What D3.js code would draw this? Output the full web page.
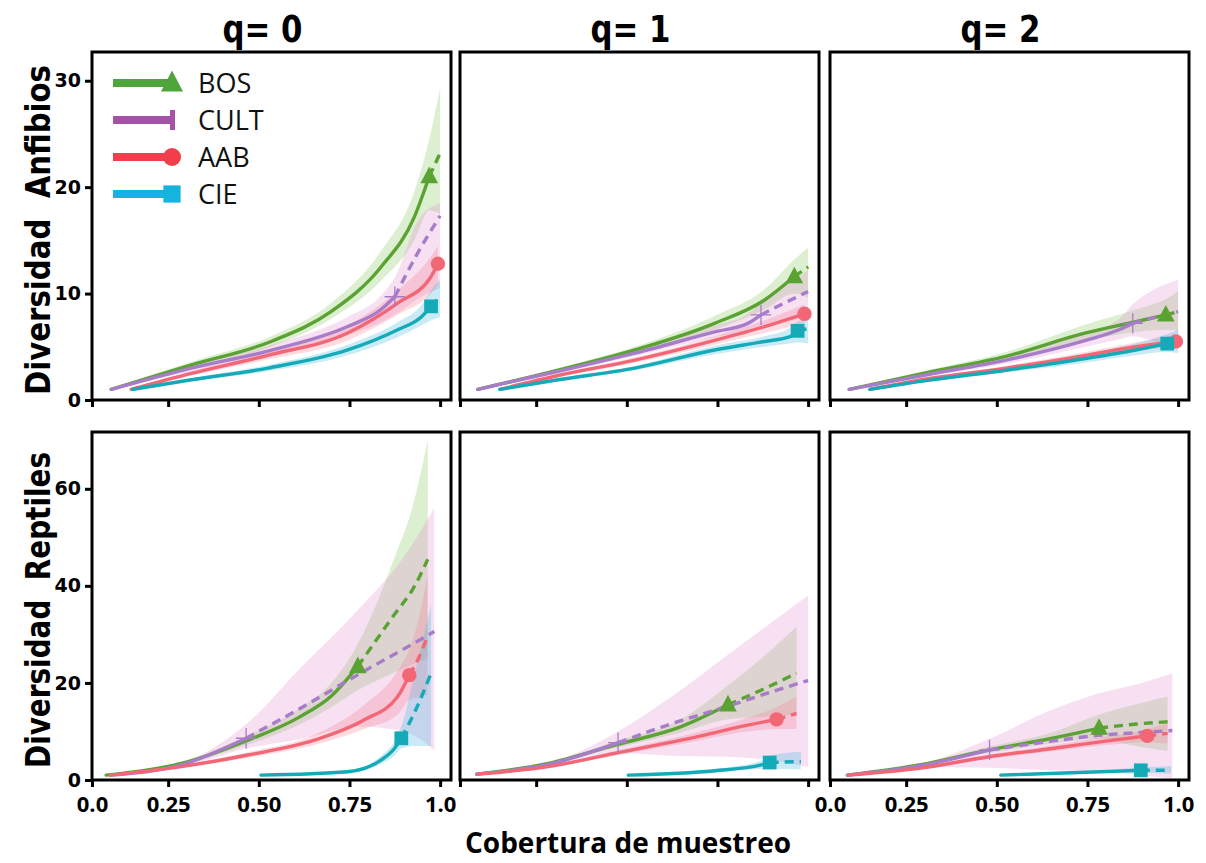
<!DOCTYPE html>
<html>
<head>
<meta charset="utf-8">
<script src="https://cdn.jsdelivr.net/npm/d3@7"></script>
<style>
body { margin: 0; background: #fff; }
svg text { white-space: pre; }
</style>
</head>
<body>
<svg id="chart" width="1206" height="863"></svg>
<script>
//
// iNEXT style coverage curves, 2 rows (taxa) x 3 columns (order q)
//

var seriesNames = ["BOS", "CULT", "AAB", "CIE"];
var lineColors = ["#5aa332", "#a77cc9", "#f26776", "#14aab8"];
var legendColors = ["#4fa53c", "#a453a8", "#f03e4b", "#15b4df"];
var bandColors = ["#86c55a", "#de8fd0", "#f77e8e", "#3fb8df"];
var markerShapes = ["triangle", "plus", "circle", "square"];

var qTitles = ["q= 0", "q= 1", "q= 2"];
var rowTitles = ["Diversidad  Anfibios", "Diversidad  Reptiles"];
var xTitle = "Cobertura de muestreo";

var xDomain = [0.04, 1.03];
var xTickValues = [0.04, 0.25, 0.5, 0.75, 1.0];
var xTickLabels = ["0.0", "0.25", "0.50", "0.75", "1.0"];
var yMaxAnf = 32.7;
var yMaxRep = 71.7;
var yTicksAnf = [0, 10, 20, 30];
var yTicksRep = [0, 20, 40, 60];

// points: [coverage, diversity, lower CI, upper CI], series order BOS, CULT, AAB, CIE
// *Obs = index of the observed sample (solid before, dashed after)
var anfQ0 = [
    [[0.093, 1, 0.9, 1.1], [0.314, 3.3, 3.0, 3.6], [0.534, 5.5, 5.0, 6.0], [0.699, 8.3, 7.6, 9.1], [0.837, 12.5, 11.2, 14.0], [0.929, 17.2, 15.0, 19.6], [0.970, 21.0, 17.8, 24.5], [1.0, 23.2, 17.5, 29.3]],
    [[0.093, 1, 0.9, 1.1], [0.314, 3.0, 2.7, 3.3], [0.525, 4.6, 4.1, 5.1], [0.745, 6.9, 6.1, 7.8], [0.837, 8.5, 7.3, 9.8], [0.875, 9.7, 8.0, 11.5], [0.938, 13.8, 9.5, 16.8], [1.0, 17.3, 10.5, 18.5]],
    [[0.148, 1, 0.9, 1.1], [0.314, 2.5, 2.3, 2.7], [0.525, 4.2, 3.8, 4.6], [0.745, 6.3, 5.6, 7.0], [0.883, 9.1, 8.0, 10.3], [0.975, 11.6, 10.0, 13.5], [0.994, 12.8, 10.8, 14.5]],
    [[0.153, 1, 0.9, 1.1], [0.314, 1.9, 1.75, 2.05], [0.525, 3.0, 2.7, 3.3], [0.745, 4.7, 4.2, 5.2], [0.883, 6.6, 5.9, 7.3], [0.948, 7.8, 7.0, 8.9], [0.975, 8.8, 7.5, 10.3], [1.0, 9.7, 7.8, 11.3]]
];
var anfQ0Obs = [6, 5, 6, 6];

var anfQ1 = [
    [[0.089, 1, 0.9, 1.1], [0.311, 2.8, 2.6, 3.0], [0.522, 4.7, 4.4, 5.0], [0.742, 7.2, 6.6, 7.9], [0.88, 9.4, 8.5, 10.4], [0.962, 11.6, 10.0, 13.2], [1.0, 12.5, 9.6, 14.3]],
    [[0.089, 1, 0.9, 1.1], [0.311, 2.7, 2.5, 2.9], [0.522, 4.4, 4.1, 4.7], [0.742, 6.4, 5.9, 7.0], [0.834, 7.2, 6.5, 8.1], [0.87, 8.0, 7.0, 9.2], [0.94, 9.2, 7.4, 10.8], [1.0, 10.2, 7.8, 12.2]],
    [[0.15, 1, 0.9, 1.1], [0.311, 2.3, 2.15, 2.45], [0.522, 3.75, 3.5, 4.0], [0.742, 5.6, 5.2, 6.0], [0.88, 6.9, 6.3, 7.5], [0.99, 8.1, 7.2, 9.0]],
    [[0.15, 1, 0.9, 1.1], [0.311, 1.9, 1.8, 2.0], [0.522, 3.0, 2.8, 3.2], [0.742, 4.7, 4.3, 5.1], [0.88, 5.5, 5.0, 6.0], [0.95, 5.95, 5.3, 6.8], [0.971, 6.5, 5.4, 7.4], [1.0, 6.7, 5.3, 7.6]]
];
var anfQ1Obs = [5, 5, 5, 6];

var anfQ2 = [
    [[0.093, 1, 0.9, 1.1], [0.31, 2.6, 2.4, 2.8], [0.525, 4.1, 3.8, 4.5], [0.745, 6.3, 5.6, 7.1], [0.883, 7.35, 6.4, 8.5], [0.966, 8.0, 6.6, 9.5], [1.0, 8.3, 6.5, 10.2]],
    [[0.093, 1, 0.9, 1.1], [0.31, 2.4, 2.2, 2.6], [0.525, 3.75, 3.4, 4.1], [0.745, 5.6, 5.0, 6.3], [0.837, 6.6, 5.7, 7.6], [0.875, 7.2, 6.0, 9.0], [0.94, 7.8, 5.5, 10.5], [1.0, 8.3, 5.0, 11.3]],
    [[0.15, 1, 0.9, 1.1], [0.31, 2.0, 1.9, 2.1], [0.525, 3.0, 2.8, 3.2], [0.745, 4.2, 3.9, 4.5], [0.883, 5.0, 4.6, 5.4], [0.994, 5.5, 5.0, 6.1]],
    [[0.15, 1, 0.9, 1.1], [0.31, 1.85, 1.75, 1.95], [0.525, 2.8, 2.6, 3.0], [0.745, 3.9, 3.5, 4.3], [0.883, 4.7, 4.2, 5.3], [0.97, 5.3, 4.5, 6.2], [1.0, 5.4, 4.4, 6.6]]
];
var anfQ2Obs = [5, 5, 5, 5];

var repQ0 = [
    [[0.079, 1, 0.9, 1.1], [0.286, 3.4, 3.1, 3.7], [0.47, 8.2, 7.3, 9.2], [0.608, 12.8, 11.3, 14.6], [0.70, 17.3, 15.0, 20.0], [0.773, 23.4, 18.5, 28.0], [0.87, 33.7, 22, 45], [0.93, 40, 24, 58], [0.966, 45.5, 25, 70]],
    [[0.093, 1, 0.9, 1.1], [0.286, 3.1, 2.7, 3.5], [0.465, 8.6, 6.5, 11.5], [0.62, 15, 8.5, 23.5], [0.773, 21.7, 11, 35], [0.9, 27, 10, 46], [0.984, 30.6, 6.2, 56]],
    [[0.09, 1, 0.9, 1.1], [0.286, 2.75, 2.5, 3.0], [0.47, 5.15, 4.6, 5.7], [0.653, 8.2, 7.2, 9.3], [0.791, 12.4, 10.5, 15.5], [0.883, 17.2, 13.5, 22.5], [0.915, 21.6, 16.5, 27], [0.94, 25, 17, 33], [0.965, 29.5, 17.5, 42]],
    [[0.506, 1, 0.8, 1.2], [0.745, 1.7, 1.4, 2.0], [0.837, 4.1, 3.3, 5.0], [0.874, 6.5, 5.0, 8.0], [0.893, 8.6, 6.5, 11], [0.93, 14, 7, 22], [0.975, 22, 7, 36]]
];
var repQ0Obs = [5, 2, 6, 4];

var repQ1 = [
    [[0.086, 1.2, 1.1, 1.3], [0.283, 3.4, 3.2, 3.6], [0.467, 7.2, 6.6, 7.9], [0.65, 11, 9.8, 12.5], [0.779, 15.5, 12.5, 19.5], [0.87, 18.5, 13, 25], [0.968, 22, 13.5, 31.6]],
    [[0.086, 1.2, 1.1, 1.3], [0.283, 3.2, 3.0, 3.4], [0.476, 7.7, 5.5, 10], [0.62, 11.5, 5.0, 17], [0.779, 15.2, 4.8, 25.8], [0.9, 18.2, 4.0, 32.5], [1.0, 20.5, 2.7, 38]],
    [[0.09, 1.2, 1.1, 1.3], [0.283, 2.75, 2.5, 3.0], [0.467, 5.5, 5.0, 6.0], [0.65, 8.2, 7.4, 9.0], [0.834, 11.3, 10.0, 12.8], [0.913, 12.5, 10.5, 15], [0.968, 13.7, 10.5, 17.2]],
    [[0.504, 1.0, 0.8, 1.2], [0.743, 1.9, 1.5, 2.3], [0.871, 3.1, 2.3, 4.0], [0.894, 3.6, 2.3, 5.0], [0.98, 3.8, 2.2, 5.8]]
];
var repQ1Obs = [4, 2, 5, 3];

var repQ2 = [
    [[0.088, 1, 0.9, 1.1], [0.286, 3.1, 2.9, 3.3], [0.479, 6.2, 5.6, 6.9], [0.653, 8.6, 7.5, 9.8], [0.782, 10.7, 8.5, 13.5], [0.88, 11.5, 7, 15.5], [0.971, 12.0, 6.0, 17.2]],
    [[0.088, 1, 0.9, 1.1], [0.286, 2.9, 2.7, 3.1], [0.48, 6.2, 2.5, 8.5], [0.65, 8.0, 2.0, 14.4], [0.78, 9.2, 1.8, 17.8], [0.9, 9.8, 1.0, 20.0], [0.984, 10.2, 0.3, 22]],
    [[0.09, 1, 0.9, 1.1], [0.286, 2.4, 2.2, 2.6], [0.479, 4.8, 4.4, 5.2], [0.653, 6.5, 5.9, 7.1], [0.8, 8.0, 7.2, 8.9], [0.915, 9.1, 7.8, 10.5], [0.971, 9.6, 7.5, 11.8]],
    [[0.511, 1.0, 0.8, 1.2], [0.746, 1.6, 1.3, 1.9], [0.897, 2.0, 1.5, 2.6], [0.98, 2.0, 1.3, 2.9]]
];
var repQ2Obs = [4, 2, 5, 2];

var panels = [
    { data: anfQ0, obs: anfQ0Obs, row: 0, col: 0 },
    { data: anfQ1, obs: anfQ1Obs, row: 0, col: 1 },
    { data: anfQ2, obs: anfQ2Obs, row: 0, col: 2 },
    { data: repQ0, obs: repQ0Obs, row: 1, col: 0 },
    { data: repQ1, obs: repQ1Obs, row: 1, col: 1 },
    { data: repQ2, obs: repQ2Obs, row: 1, col: 2 }
];

var colLeft = [92, 460, 830];
var rowTop = [52, 432];
var panelW = 359;
var panelH = 348;

var svg = d3.select("#chart");

function drawMarker(g, shape, cx, cy, color, s) {
    if (shape == "triangle") {
        g.append("path")
            .attr("d", "M" + cx + "," + (cy - s * 0.62) + "L" + (cx + s * 0.55) + "," + (cy + s * 0.42) + "L" + (cx - s * 0.55) + "," + (cy + s * 0.42) + "Z")
            .attr("fill", color);
    }
    else if (shape == "circle") {
        g.append("circle").attr("cx", cx).attr("cy", cy).attr("r", s * 0.45).attr("fill", color);
    }
    else if (shape == "square") {
        g.append("rect").attr("x", cx - s * 0.43).attr("y", cy - s * 0.43)
            .attr("width", s * 0.86).attr("height", s * 0.86).attr("fill", color);
    }
    else {
        g.append("path")
            .attr("d", "M" + (cx - s * 0.6) + "," + cy + "H" + (cx + s * 0.6) + "M" + cx + "," + (cy - s * 0.6) + "V" + (cy + s * 0.6))
            .attr("stroke", color).attr("stroke-width", 1.3).attr("fill", "none");
    }
}

panels.forEach(function (p) {
    var left = colLeft[p.col];
    var top = rowTop[p.row];
    var yMax = p.row == 0 ? yMaxAnf : yMaxRep;

    var x = d3.scaleLinear().domain(xDomain).range([0, panelW]);
    var y = d3.scaleLinear().domain([0, yMax]).range([panelH, 0]);

    var g = svg.append("g").attr("transform", "translate(" + left + "," + top + ")");

    var area = d3.area()
        .x(function (d) { return x(d[0]); })
        .y0(function (d) { return y(d[2]); })
        .y1(function (d) { return y(d[3]); })
        .curve(d3.curveMonotoneX);
    var line = d3.line()
        .x(function (d) { return x(d[0]); })
        .y(function (d) { return y(d[1]); })
        .curve(d3.curveMonotoneX);

    // confidence bands
    p.data.forEach(function (curve, i) {
        g.append("path")
            .attr("d", area(curve))
            .attr("fill", bandColors[i])
            .attr("fill-opacity", 0.28);
    });

    // rarefaction (solid) and extrapolation (dashed)
    p.data.forEach(function (curve, i) {
        var k = p.obs[i];
        g.append("path")
            .attr("d", line(curve.slice(0, k + 1)))
            .attr("fill", "none")
            .attr("stroke", lineColors[i])
            .attr("stroke-width", 3.4)
            .attr("stroke-linecap", "round");
        if (k < curve.length - 1) {
            g.append("path")
                .attr("d", line(curve.slice(k)))
                .attr("fill", "none")
                .attr("stroke", lineColors[i])
                .attr("stroke-width", 3.4)
                .attr("stroke-dasharray", "9,6");
        }
    });

    // observed points
    p.data.forEach(function (curve, i) {
        var pt = curve[p.obs[i]];
        drawMarker(g, markerShapes[i], x(pt[0]), y(pt[1]), lineColors[i], markerShapes[i] == "plus" ? 17 : 16);
    });

    // x axis
    var showX = p.row == 1 && p.col != 1;
    var xAxis = d3.axisBottom(x)
        .tickValues(xTickValues)
        .tickSize(7)
        .tickPadding(9)
        .tickFormat(function (d, idx) { return showX ? xTickLabels[idx] : ""; });
    var gx = g.append("g")
        .attr("class", "x axis")
        .attr("transform", "translate(0," + panelH + ")")
        .call(xAxis);
    gx.select(".domain").remove();
    gx.selectAll("line").attr("stroke", "#000").attr("stroke-width", 3);
    gx.selectAll("text")
        .attr("fill", "#000")
        .style("font-family", "'Open Sans', 'Liberation Sans', sans-serif")
        .style("font-weight", "bold")
        .style("font-size", "22px");

    // y axis (left column only)
    if (p.col == 0) {
        var yAxis = d3.axisLeft(y)
            .tickValues(p.row == 0 ? yTicksAnf : yTicksRep)
            .tickSize(7)
            .tickPadding(4)
            .tickFormat(d3.format("d"));
        var gy = g.append("g").attr("class", "y axis").call(yAxis);
        gy.select(".domain").remove();
        gy.selectAll("line").attr("stroke", "#000").attr("stroke-width", 3);
        gy.selectAll("text")
            .attr("fill", "#000")
            .style("font-family", "'DejaVu Sans', Verdana, sans-serif")
            .style("font-weight", "bold")
            .style("font-size", "19px");

        svg.append("text")
            .attr("transform", "translate(50," + (top + panelH / 2 + 4) + ") rotate(-90)")
            .attr("text-anchor", "middle")
            .attr("textLength", p.row == 0 ? 330 : 316)
            .attr("lengthAdjust", "spacingAndGlyphs")
            .style("font-family", "'Liberation Sans Narrow', 'DejaVu Sans Condensed', 'Liberation Sans', sans-serif")
            .style("font-weight", "bold")
            .style("font-size", "33px")
            .text(rowTitles[p.row]);
    }

    // panel frame
    g.append("rect")
        .attr("width", panelW)
        .attr("height", panelH)
        .attr("fill", "none")
        .attr("stroke", "#000")
        .attr("stroke-width", 3);

    // column titles
    if (p.row == 0) {
        svg.append("text")
            .attr("x", left + panelW / 2 - 9)
            .attr("y", 42)
            .attr("text-anchor", "middle")
            .attr("textLength", 80)
            .attr("lengthAdjust", "spacingAndGlyphs")
            .style("font-family", "'Liberation Sans Narrow', 'DejaVu Sans Condensed', 'Liberation Sans', sans-serif")
            .style("font-weight", "bold")
            .style("font-size", "37px")
            .text(qTitles[p.col]);
    }

    // legend in first panel
    if (p.row == 0 && p.col == 0) {
        seriesNames.forEach(function (name, i) {
            var ly = 31 + i * 37;
            var lg = g.append("g").attr("class", "legend");
            lg.append("line")
                .attr("x1", 21).attr("x2", 79)
                .attr("y1", ly).attr("y2", ly)
                .attr("stroke", legendColors[i])
                .attr("stroke-width", 8);
            if (markerShapes[i] == "plus") {
                lg.append("rect").attr("x", 78).attr("y", ly - 10).attr("width", 5).attr("height", 20).attr("fill", legendColors[i]);
            }
            else {
                drawMarker(lg, markerShapes[i], 80, ly, legendColors[i], 20);
            }
            lg.append("text")
                .attr("x", 106)
                .attr("y", ly + 10)
                .attr("fill", "#111")
                .style("font-family", "'Open Sans', sans-serif")
                .style("font-size", "27px")
                .text(name);
        });
    }
});

svg.append("text")
    .attr("x", 628)
    .attr("y", 853)
    .attr("text-anchor", "middle")
    .attr("textLength", 326)
    .attr("lengthAdjust", "spacingAndGlyphs")
    .style("font-family", "'Open Sans', 'Liberation Sans', sans-serif")
    .style("font-weight", "bold")
    .style("font-size", "29px")
    .text(xTitle);
</script>
</body>
</html>
